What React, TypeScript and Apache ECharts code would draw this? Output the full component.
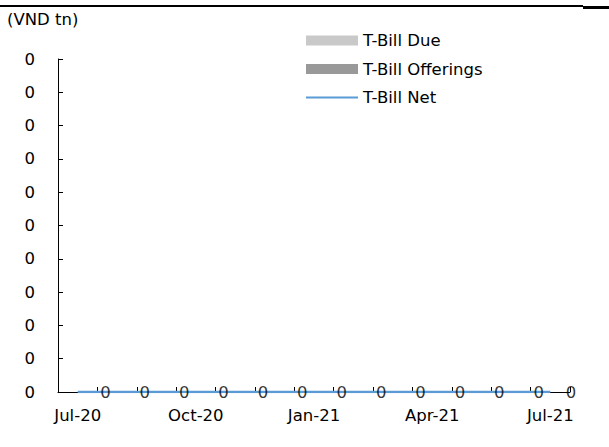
import React, { useEffect, useRef } from "react";
import * as echarts from "echarts";

// Monthly treasury-bill flows, VND trillion
const months = [
  "Jul-20", "Aug-20", "Sep-20", "Oct-20", "Nov-20", "Dec-20", "Jan-21",
  "Feb-21", "Mar-21", "Apr-21", "May-21", "Jun-21", "Jul-21",
];
const tBillDue = [0, 0, 0, 0, 0, 0, 0, 0, 0, 0, 0, 0, 0];
const tBillOfferings = [0, 0, 0, 0, 0, 0, 0, 0, 0, 0, 0, 0, 0];
const tBillNet = [0, 0, 0, 0, 0, 0, 0, 0, 0, 0, 0, 0, 0];

const FONT = "DejaVu Sans";
const FS = 16.5;

export default function App() {
  const ref = useRef<HTMLDivElement>(null);

  useEffect(() => {
    if (!ref.current) return;
    const chart = echarts.init(ref.current, null, { renderer: "svg" });

    // value labels for the net line, nudged in for the final month
    const netLabelData = tBillNet.map((v, i) =>
      i === tBillNet.length - 1 ? { value: v, label: { distance: 15 } } : v
    );

    chart.setOption({
      animation: false,
      backgroundColor: "#ffffff",
      textStyle: { fontFamily: FONT, fontSize: FS, color: "#000" },
      grid: { left: 58, right: 39, top: 59, bottom: 55, containLabel: false },
      legend: {
        orient: "vertical",
        left: 305,
        top: 30.5,
        padding: 0,
        itemWidth: 52,
        itemHeight: 10,
        itemGap: 8.5,
        textStyle: { fontFamily: FONT, fontSize: FS, color: "#000", lineHeight: 20 },
        data: [
          { name: "T-Bill Due", icon: "rect" },
          { name: "T-Bill Offerings", icon: "rect" },
          { name: "T-Bill Net", itemStyle: { opacity: 0 } },
        ],
      },
      xAxis: {
        type: "category",
        data: months,
        boundaryGap: true,
        axisLine: { show: true, lineStyle: { color: "#000", width: 1 } },
        axisTick: { show: true, inside: true, length: 5, interval: 0, lineStyle: { color: "#000" } },
        axisLabel: {
          interval: 2,
          margin: 15,
          fontFamily: FONT,
          fontSize: FS,
          color: "#000",
        },
        splitLine: { show: false },
      },
      yAxis: {
        type: "value",
        min: 0,
        max: 0.4,
        interval: 0.04,
        axisLine: { show: true, lineStyle: { color: "#000", width: 1 } },
        axisTick: { show: true, inside: true, length: 5, lineStyle: { color: "#000" } },
        axisLabel: {
          margin: 23,
          fontFamily: FONT,
          fontSize: FS,
          color: "#000",
          formatter: (v: number) => v.toFixed(0),
        },
        splitLine: { show: false },
      },
      series: [
        {
          name: "T-Bill Due",
          type: "bar",
          stack: "flows",
          data: tBillDue,
          itemStyle: { color: "#c9c9c9" },
        },
        {
          name: "T-Bill Offerings",
          type: "bar",
          stack: "flows",
          data: tBillOfferings,
          itemStyle: { color: "#999999" },
        },
        {
          name: "T-Bill Net",
          type: "line",
          data: tBillNet,
          symbol: "none",
          lineStyle: { color: "#5b9bd5", width: 2.5 },
          itemStyle: { color: "#5b9bd5" },
          z: 5,
        },
        {
          name: "T-Bill Net labels",
          type: "scatter",
          data: netLabelData,
          symbolSize: 1,
          itemStyle: { color: "rgba(0,0,0,0)" },
          silent: true,
          z: 6,
          label: {
            show: true,
            position: "right",
            distance: 22,
            fontFamily: FONT,
            fontSize: FS,
            color: "#000",
            formatter: (p: any) => Number(p.value).toFixed(0),
          },
        },
      ],
      graphic: [
        {
          type: "rect",
          left: 0,
          top: 5,
          shape: { width: 583, height: 2 },
          style: { fill: "#000" },
        },
        {
          type: "rect",
          left: 583,
          top: 6,
          shape: { width: 26, height: 3 },
          style: { fill: "#000" },
        },
        {
          type: "text",
          left: 7,
          top: 11,
          style: { text: "(VND tn)", font: `${FS}px "${FONT}"`, fill: "#000" },
        },
      ],
    });

    return () => chart.dispose();
  }, []);

  return (
    <div
      ref={ref}
      style={{ position: "fixed", left: 0, top: 0, width: 609, height: 447 }}
    />
  );
}
